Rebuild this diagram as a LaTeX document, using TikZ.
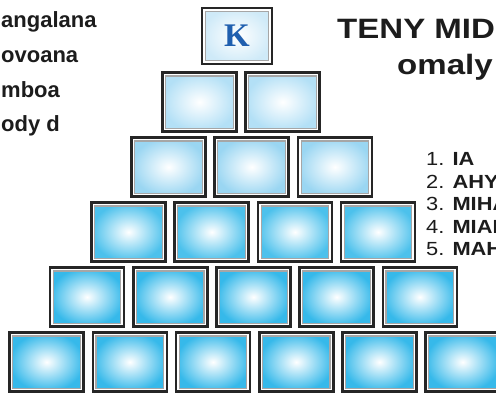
\documentclass[tikz,border=0pt]{standalone}
\usepackage{fontspec}
\newfontfamily\sidefont{Liberation Sans}
\newfontfamily\headfont{Liberation Sans}[FakeStretch=1.18]
\newfontfamily\listfont{Liberation Sans}[FakeStretch=1.15]
\newfontfamily\keyfont{Liberation Serif}
\definecolor{keyblue}{HTML}{1F5FAF}
\definecolor{rowone}{HTML}{CFEAF8}
\definecolor{rowtwo}{HTML}{B3E0F6}
\definecolor{rowthree}{HTML}{9AD6F2}
\definecolor{rowfour}{HTML}{4CC1EC}
\definecolor{rowfive}{HTML}{36B9EA}
\definecolor{inktext}{HTML}{1C1C1C}
\tikzset{
  tile/.style={draw=black!85, fill=white, line width=2.6pt, minimum width=74pt,
    minimum height=58.5pt, inner sep=0pt,
    path picture={\shadedraw[inner color=white, outer color=#1, draw=black!35, line width=1.1pt]
      ([shift={(3.2pt,3.2pt)}]path picture bounding box.south west) rectangle
      ([shift={(-3.2pt,-3.2pt)}]path picture bounding box.north east);}},
  sideword/.style={anchor=base west, inner sep=0pt, text=inktext,
    font=\sidefont\bfseries\fontsize{22}{22}\selectfont},
  headword/.style={anchor=base west, inner sep=0pt, text=inktext,
    font=\headfont\bfseries\fontsize{28}{28}\selectfont},
  listitem/.style={anchor=base west, inner sep=0pt, text=inktext,
    font=\listfont\fontsize{19}{19}\selectfont}
}
\begin{document}
\begin{tikzpicture}[x=1pt,y=-1pt]
\useasboundingbox (0,0) rectangle (496,392);
\clip (0,0) rectangle (496,392);
\node[tile=rowone, minimum width=70pt, minimum height=56pt, text=keyblue,
  font=\keyfont\bfseries\fontsize{33}{33}\selectfont] (k) at (237,36) {K};
\foreach \i in {1,2} \node[tile=rowtwo] (r2c\i) at ({116.3+83.2*\i},102) {};
\foreach \i in {1,...,3} \node[tile=rowthree] (r3c\i) at ({85.3+83.2*\i},167) {};
\foreach \i in {1,...,4} \node[tile=rowfour] (r4c\i) at ({45.3+83.2*\i},232) {};
\foreach \i in {1,...,5} \node[tile=rowfive] (r5c\i) at ({3.8+83.2*\i},297) {};
\foreach \i in {1,...,6} \node[tile=rowfive] (r6c\i) at ({-36.6+83.2*\i},362) {};
\node[sideword] (w1) at (1,27) {angalana};
\node[sideword] (w2) at (1,62) {ovoana};
\node[sideword] (w3) at (1,97) {mboa};
\node[sideword] (w4) at (1,131) {ody d};
\node[headword] (h1) at (337,38) {TENY MID};
\node[headword] (h2) at (397,74) {omaly};
\node[listitem] (i1) at (426,165) {1. \textbf{IA}};
\node[listitem] (i2) at (426,188) {2. \textbf{AHY}};
\node[listitem] (i3) at (426,210) {3. \textbf{MIHA}};
\node[listitem] (i4) at (426,233) {4. \textbf{MIAK}};
\node[listitem] (i5) at (426,255) {5. \textbf{MAH}};
\end{tikzpicture}
\end{document}
